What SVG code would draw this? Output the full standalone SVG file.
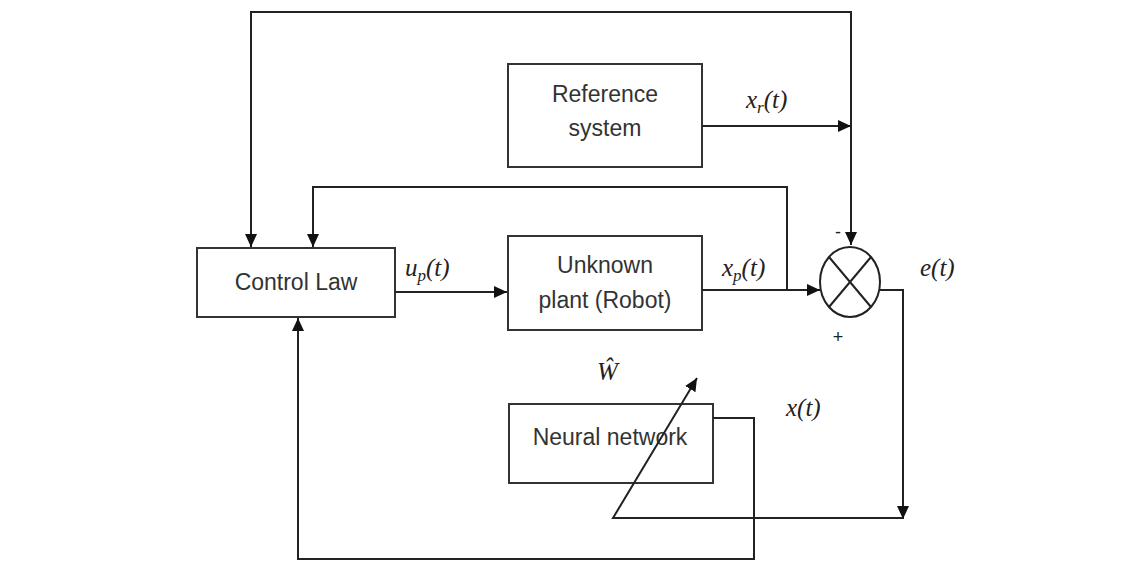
<svg xmlns="http://www.w3.org/2000/svg" width="1144" height="566" viewBox="0 0 1144 566">
<style>
.box{fill:#fff;stroke:#333;stroke-width:2}
.ln{fill:none;stroke:#222;stroke-width:2}
.t{font-family:"Liberation Sans",Arial,sans-serif;font-size:23px;fill:#333;text-anchor:middle}
.m{font-family:"Liberation Serif","DejaVu Serif",serif;font-style:italic;font-size:25px;fill:#222}
.s{font-family:"Liberation Sans",Arial,sans-serif;font-size:18px;fill:#222;text-anchor:middle}
</style>
<defs>
<marker id="ah" markerUnits="userSpaceOnUse" markerWidth="14" markerHeight="12" refX="13" refY="6" orient="auto">
<path d="M0,0 L13,6 L0,12 z" fill="#111"/>
</marker>
</defs>
<rect width="1144" height="566" fill="#fff"/>
<g id="control-law">
<rect class="box" x="197" y="248" width="198" height="69"/>
<text class="t" x="296" y="290">Control Law</text>
</g>
<g id="reference-system">
<rect class="box" x="508" y="64" width="194" height="103"/>
<text class="t" x="605" y="102">Reference</text>
<text class="t" x="605" y="136">system</text>
</g>
<g id="unknown-plant">
<rect class="box" x="508" y="236" width="194" height="94"/>
<text class="t" x="605" y="273">Unknown</text>
<text class="t" x="605" y="308">plant (Robot)</text>
</g>
<g id="neural-network">
<rect class="box" x="509" y="404" width="204" height="79"/>
<text class="t" x="610" y="445">Neural network</text>
</g>
<g id="sum">
<ellipse cx="850" cy="282" rx="30" ry="35" fill="none" stroke="#222" stroke-width="2"/>
<path class="ln" d="M829 257 L871 307 M871 257 L829 307"/>
<text class="s" x="838" y="238">-</text>
<text class="s" x="838" y="343">+</text>
</g>
<g id="connectors">
<path class="ln" d="M851 126 V12 H251 V247" marker-end="url(#ah)"/>
<path class="ln" d="M851 126 V245" marker-end="url(#ah)"/>
<path class="ln" d="M702 126 H851" marker-end="url(#ah)"/>
<path class="ln" d="M787 290 V187 H313 V247" marker-end="url(#ah)"/>
<path class="ln" d="M395 292 H507" marker-end="url(#ah)"/>
<path class="ln" d="M702 290 H820" marker-end="url(#ah)"/>
<path class="ln" d="M880 290 H903 V519" marker-end="url(#ah)"/>
<path class="ln" d="M903 518 H613 L697 378" marker-end="url(#ah)"/>
<path class="ln" d="M713 418 H754 V559 H298 V318" marker-end="url(#ah)"/>
</g>
<g id="labels">
<text class="m" x="746" y="108">x<tspan font-size="17" dy="5">r</tspan><tspan dy="-5">(t)</tspan></text>
<text class="m" x="405" y="276">u<tspan font-size="17" dy="5">p</tspan><tspan dy="-5">(t)</tspan></text>
<text class="m" x="722" y="276">x<tspan font-size="17" dy="5">p</tspan><tspan dy="-5">(t)</tspan></text>
<text class="m" x="920" y="276">e(t)</text>
<text class="m" x="786" y="416">x(t)</text>
<text class="m" x="597" y="380" font-size="22">Ŵ</text>
</g>
</svg>
